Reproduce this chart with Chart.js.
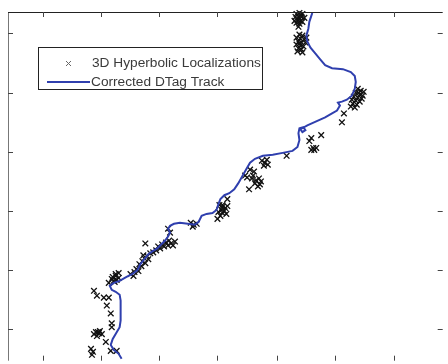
<!DOCTYPE html>
<html>
<head>
<meta charset="utf-8">
<title>DTag track</title>
<script src="https://cdn.jsdelivr.net/npm/chart.js@4.4.0/dist/chart.umd.min.js"></script>
<style>
    html, body { margin: 0; padding: 0; background: #fff; overflow: hidden; }
    #wrap { position: relative; width: 448px; height: 366px; }
</style>
</head>
<body>
<div id="wrap"><canvas id="trackChart"></canvas></div>
<script>
// corrected DTag track (bottom -> top)
const trackX = [80, 77, 72, 69, 71, 75, 78, 79, 79, 79, 78, 74, 70, 68, 72, 78, 85, 91, 96, 99,
    103, 107, 111, 116, 120, 124, 127, 129, 127, 129, 133, 139, 147, 154, 158, 161, 166, 172, 176, 178,
    180, 184, 189, 194, 198, 202, 206, 210, 215, 223, 233, 243, 253, 258, 260, 259, 260, 264, 266, 263,
    261, 268, 277, 286, 293, 298, 301, 299, 303, 308, 313, 316, 317, 316, 312, 304, 293, 286, 281, 276,
    271, 268, 267, 269, 270, 272, 273];
const trackY = [-30, -25, -21, -16, -10, -3, 2, 9, 19, 29, 35, 38, 40, 44, 47, 49, 53, 56, 60, 66,
    71, 76, 79, 82, 86, 90, 94, 98, 102, 105, 107, 108, 107, 106, 109, 115, 117, 118, 121, 127,
    132, 136, 138, 142, 148, 155, 162, 169, 173, 176, 177, 179, 181, 185, 192, 199, 204, 205, 202, 200,
    203, 207, 211, 215, 219, 222, 227, 230, 231, 233, 237, 244, 251, 257, 261, 264, 265, 268, 274, 280,
    286, 292, 298, 305, 312, 318, 321];

// 3D hyperbolic localizations
const locX = [257, 260, 263, 256, 259, 262, 265, 258, 261, 257, 260, 263, 259, 261, 255,
    260, 263, 257, 261, 265, 259, 262, 266, 257, 261, 264, 259, 262, 258, 263, 260, 267,
    319, 322, 317, 321, 324, 315, 319, 323, 313, 317, 321, 314, 318, 312, 316, 320, 325,
    305, 303, 272, 282, 270, 274, 275, 277, 272, 247,
    222, 225, 228, 224, 227,
    210, 214, 207, 212, 216, 219, 215, 220, 218, 213, 221, 205, 209, 187, 182,
    179, 182, 185, 181, 184, 178, 182, 186, 180, 177, 187,
    150, 153, 156, 152, 127, 129, 104,
    134, 130, 127, 123, 119, 115, 112, 125, 121, 117, 128, 132,
    109, 106, 103, 101, 104, 100, 98, 107, 102,
    97, 93, 89, 95, 92, 77, 74,
    74, 70, 77, 67, 72, 75, 71, 73,
    52, 55, 62, 67, 65, 69, 70, 70,
    54, 57, 60, 55, 58, 52, 56, 64, 69, 75, 49, 50, 51];
const locY = [320, 321, 320, 317, 317, 317, 316, 314, 313, 311, 310, 312, 307, 319, 313,
    299, 298, 296, 295, 294, 292, 291, 291, 289, 288, 287, 285, 284, 282, 281, 290, 296,
    244, 242, 240, 238, 237, 236, 235, 234, 233, 232, 231, 229, 228, 226, 225, 240, 241,
    219, 210, 194, 197, 191, 184, 182, 184, 182, 176,
    171, 169, 167, 166, 172,
    162, 160, 154, 153, 151, 153, 148, 147, 145, 156, 150, 156, 142, 132, 126,
    126, 124, 123, 121, 120, 119, 118, 117, 115, 112, 125,
    108, 106, 107, 104, 102, 98, 87,
    89, 87, 85, 84, 82, 80, 78, 88, 86, 84, 90, 85,
    77, 74, 72, 69, 67, 64, 66, 71, 75,
    59, 58, 56, 61, 54, 57, 56,
    54, 51, 52, 47, 49, 50, 53, 48,
    39, 34, 32, 32, 24, 16, 6, 2,
    -3, -4, -5, -7, -2, -5, -3, -13, -22, -22, -20, -26, -23];

// tick positions (no labels shown)
const xTicks = [0, 59, 118, 177, 237, 296, 356];
const yTicks = [0, 60, 120, 180, 240, 301];

const legendItems = ['3D Hyperbolic Localizations', 'Corrected DTag Track'];
const trackColor = '#2f3fae';

function toPoints(xs, ys) {
    return xs.map((v, i) => ({ x: v, y: ys[i] }));
}

// axes box, inward ticks and legend, matlab style
const matlabFrame = {
    id: 'matlabFrame',
    afterDraw(chart) {
        const ctx = chart.ctx;
        const a = chart.chartArea;
        const xs = chart.scales.x;
        const ys = chart.scales.y;
        ctx.save();
        ctx.lineWidth = 1;

        ctx.strokeStyle = '#777';
        ctx.beginPath();
        ctx.moveTo(a.left + 0.5, a.bottom);
        ctx.lineTo(a.left + 0.5, a.top + 0.5);
        ctx.stroke();
        ctx.strokeStyle = '#222';
        ctx.beginPath();
        ctx.moveTo(a.left, a.top + 0.5);
        ctx.lineTo(a.right, a.top + 0.5);
        ctx.stroke();

        ctx.strokeStyle = '#444';
        ctx.beginPath();
        xTicks.forEach(v => {
            const px = Math.round(xs.getPixelForValue(v)) + 0.5;
            ctx.moveTo(px, a.top);
            ctx.lineTo(px, a.top + 5);
            ctx.moveTo(px, a.bottom);
            ctx.lineTo(px, a.bottom - 5);
        });
        yTicks.forEach(v => {
            const py = Math.round(ys.getPixelForValue(v)) + 0.5;
            ctx.moveTo(a.left, py);
            ctx.lineTo(a.left + 5, py);
            ctx.moveTo(a.right, py);
            ctx.lineTo(a.right - 5, py);
        });
        ctx.stroke();

        // legend
        const bx = 38.5, by = 47.5, bw = 224, bh = 42;
        ctx.fillStyle = '#fff';
        ctx.fillRect(bx, by, bw, bh);
        ctx.strokeStyle = '#222';
        ctx.strokeRect(bx, by, bw, bh);

        ctx.strokeStyle = '#666';
        ctx.beginPath();
        ctx.moveTo(66, 61);
        ctx.lineTo(71, 66);
        ctx.moveTo(71, 61);
        ctx.lineTo(66, 66);
        ctx.stroke();

        ctx.strokeStyle = trackColor;
        ctx.lineWidth = 2;
        ctx.beginPath();
        ctx.moveTo(47, 82);
        ctx.lineTo(90, 82);
        ctx.stroke();

        ctx.fillStyle = '#3a3a3a';
        ctx.font = '13.7px "Liberation Sans", Arial, sans-serif';
        ctx.textBaseline = 'middle';
        ctx.fillText(legendItems[0], 92, 63);
        ctx.fillText(legendItems[1], 91, 82);
        ctx.restore();
    }
};

let trackChart;

function chart() {
    const ctx = document.getElementById('trackChart').getContext('2d');
    trackChart = new Chart(ctx, {
        type: 'scatter',
        data: {
            datasets: [
                {
                    label: legendItems[1],
                    data: toPoints(trackX, trackY),
                    showLine: true,
                    borderColor: trackColor,
                    borderWidth: 2,
                    pointRadius: 0,
                    tension: 0,
                    order: 0,
                    clip: false
                },
                {
                    label: legendItems[0],
                    data: toPoints(locX, locY),
                    pointStyle: 'crossRot',
                    pointRadius: 4,
                    borderColor: '#111',
                    borderWidth: 1.3,
                    order: 1,
                    clip: false
                }
            ]
        },
        options: {
            responsive: true,
            maintainAspectRatio: false,
            animation: false,
            layout: { padding: { left: 8, top: 12, right: 0, bottom: 0 } },
            scales: {
                x: { type: 'linear', min: -35, max: 405, display: false },
                y: { type: 'linear', min: -32, max: 322, display: false }
            },
            plugins: {
                legend: { display: false },
                tooltip: { enabled: false }
            }
        },
        plugins: [matlabFrame]
    });
}

window.onload = chart;
</script>
</body>
</html>
